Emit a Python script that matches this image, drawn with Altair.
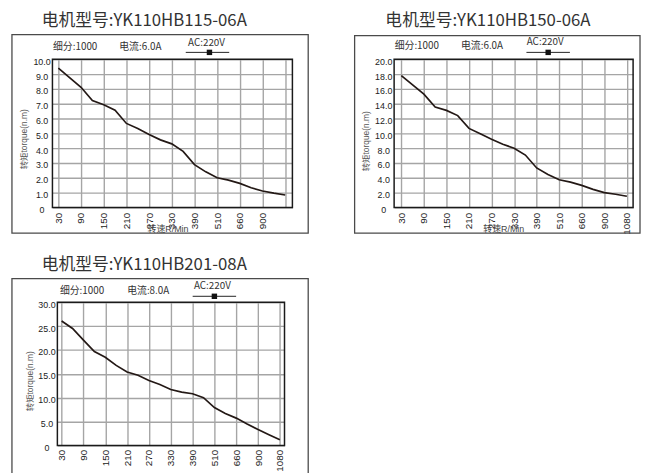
import altair as alt
import pandas as pd

# ---------------- data ----------------
TITLES = ["电机型号:YK110HB115-06A", "电机型号:YK110HB150-06A", "电机型号:YK110HB201-08A"]
SUBDIV = "细分:1000"
CURRENTS = ["电流:6.0A", "电流:6.0A", "电流:8.0A"]
VOLTAGE = "AC:220V"
Y_TITLE = "转矩torque(n.m)"
X_TITLE = "转速R/Min"

X_LABELS_1 = ["30", "90", "150", "210", "270", "330", "390", "510", "660", "900", ""]
X_LABELS_2 = ["30", "90", "150", "210", "270", "330", "390", "510", "660", "900", "1080"]
X_LABELS_3 = ["30", "90", "150", "210", "270", "330", "390", "510", "660", "900", "1080"]

P1_POS = [0, 1, 1.5, 2, 2.5, 3, 3.5, 4, 4.5, 5, 5.5, 6, 6.5, 7, 7.5, 8, 8.5, 9, 9.5, 10]
P1_TORQUE = [9.4, 8.11, 7.22, 6.93, 6.56, 5.67, 5.33, 4.93, 4.56, 4.29,
             3.78, 2.89, 2.4, 2.0, 1.84, 1.62, 1.33, 1.11, 0.96, 0.84]

P2_POS = [0, 1, 1.5, 2, 2.5, 3, 3.5, 4, 4.5, 5, 5.5, 6, 6.5, 7, 7.5, 8, 8.5, 9, 9.5, 10]
P2_TORQUE = [17.8, 15.3, 13.56, 13.1, 12.4, 10.67, 9.96, 9.2, 8.53, 8.0,
             7.07, 5.33, 4.44, 3.73, 3.42, 2.98, 2.44, 2.0, 1.78, 1.51]

P3_POS = [0, 0.5, 1, 1.5, 2, 2.5, 3, 3.5, 4, 4.5, 5, 5.5, 6, 6.5, 7, 7.5, 8, 8.5, 9, 9.5, 10]
P3_TORQUE = [26.07, 24.5, 22.07, 19.66, 18.48, 16.76, 15.38, 14.69, 13.59, 12.76, 11.72,
             11.17, 10.83, 10.0, 7.93, 6.69, 5.72, 4.48, 3.31, 2.21, 1.17]

Y_TICKS_1 = [0, 1, 2, 3, 4, 5, 6, 7, 8, 9, 10]
Y_TICKS_2 = [0, 2, 4, 6, 8, 10, 12, 14, 16, 18, 20]
Y_TICKS_3 = [0, 5, 10, 15, 20, 25, 30]

# ---------------- layout / style ----------------
CJK = "Noto Sans CJK SC"
LAT = "Liberation Sans Narrow, Liberation Sans"
LAT_Y = "Liberation Sans"

GEOM = [
    dict(w=243, h=150, xdom=[-0.261, 10.318], xr0=0, ymax=10, ylp=11, xlp=5,
         box=(-41, 259, -25, 176), title=(93, -34), sub=(23, -12), cur=(89, -12),
         ac=(156, -16), acline=(135, 179, -7), sq=(159, -7), ytitle=(-29, 81), xtitle=(117, 175)),
    dict(w=242, h=150, xdom=[-0.32, 10.276], xr0=0, ymax=20, ylp=11, xlp=5,
         box=(-40, 249, -24, 176), title=(95, -34), sub=(23, -13), cur=(89, -13),
         ac=(153, -17), acline=(134, 178, -7), sq=(156, -7), ytitle=(-28, 83), xtitle=(111, 175)),
    dict(w=235, h=145, xdom=[-0.195, 10.212], xr0=5, ymax=30, ylp=6, xlp=4,
         box=(-41, 259, -24, 220), title=(93, -33), sub=(30, -11), cur=(97, -11),
         ac=(162, -16), acline=(142, 186, -6), sq=(164, -6), ytitle=(-23, 80), xtitle=None),
]

ONE = pd.DataFrame({"a": [0]})


def text_layer(txt, xy, size, color, font, baseline="middle", angle=0):
    kw = dict(text=txt, fontSize=size, color=color, font=font, align="center", baseline=baseline)
    if angle:
        kw["angle"] = angle
    return alt.Chart(ONE).mark_text(**kw).encode(x=alt.value(xy[0]), y=alt.value(xy[1]))


def make_panel(title, current, pos, torque, xlabels, yticks, g):
    w, h = g["w"], g["h"]
    df = pd.DataFrame({"x": pos, "t": torque})
    label_arr = "[" + ",".join("'%s'" % s for s in xlabels) + "][datum.value]"
    line = alt.Chart(df).mark_line(color="#231815", strokeWidth=1.7).encode(
        x=alt.X("x:Q", title=None,
                scale=alt.Scale(domain=g["xdom"], range=[g["xr0"], w], nice=False, zero=False),
                axis=alt.Axis(values=list(range(11)), labelExpr=label_arr, grid=True,
                              gridColor="#a5a5a5", gridWidth=1.4, domain=False, ticks=False,
                              tickSize=0, labelAngle=270, labelPadding=g["xlp"], labelFlush=False,
                              labelOverlap=False, labelFont=LAT, labelFontSize=10,
                              labelColor="#222")),
        y=alt.Y("t:Q", title=None,
                scale=alt.Scale(domain=[0, g["ymax"]], nice=False, zero=True),
                axis=alt.Axis(values=yticks,
                              labelExpr="datum.value == 0 ? '0' : format(datum.value, '.1f')",
                              grid=True, gridColor="#a5a5a5", gridWidth=1.4, domain=False,
                              ticks=False, tickSize=0, labelAlign="center", labelBaseline="middle",
                              labelPadding=g["ylp"], labelOffset=2, labelFlush=False,
                              labelOverlap=False, labelFont=LAT_Y, labelFontSize=9,
                              labelColor="#222")),
    )
    bx = g["box"]
    outer = alt.Chart(ONE).mark_rect(filled=False, stroke="#4a4a4a", strokeWidth=1.3).encode(
        x=alt.value(bx[0]), x2=alt.value(bx[1]), y=alt.value(bx[2]), y2=alt.value(bx[3]))
    frame = alt.Chart(ONE).mark_rect(filled=False, stroke="#1a1a1a", strokeWidth=1.5).encode(
        x=alt.value(g["xr0"]), x2=alt.value(w), y=alt.value(0), y2=alt.value(h))
    acl = g["acline"]
    acrule = alt.Chart(ONE).mark_rule(color="#222", strokeWidth=1).encode(
        x=alt.value(acl[0]), x2=alt.value(acl[1]), y=alt.value(acl[2]))
    sq = alt.Chart(ONE).mark_square(size=30, color="#111", opacity=1).encode(
        x=alt.value(g["sq"][0]), y=alt.value(g["sq"][1]))
    layers = [
        outer,
        text_layer(title, g["title"], 17, "#333", CJK, baseline="alphabetic"),
        text_layer(SUBDIV, g["sub"], 10, "#333", CJK),
        text_layer(current, g["cur"], 10, "#333", CJK),
        text_layer(VOLTAGE, g["ac"], 10, "#333", CJK),
        acrule, sq,
        text_layer(Y_TITLE, g["ytitle"], 8.5, "#555", "Liberation Sans, Noto Sans CJK SC", angle=270),
    ]
    if g["xtitle"] is not None:
        layers.append(text_layer(X_TITLE, g["xtitle"], 9, "#444",
                                 "Liberation Sans, Noto Sans CJK SC", baseline="alphabetic"))
    layers += [line, frame]
    return alt.layer(*layers).properties(width=w, height=h)


p1 = make_panel(TITLES[0], CURRENTS[0], P1_POS, P1_TORQUE, X_LABELS_1, Y_TICKS_1, GEOM[0])
p2 = make_panel(TITLES[1], CURRENTS[1], P2_POS, P2_TORQUE, X_LABELS_2, Y_TICKS_2, GEOM[1])
p3 = make_panel(TITLES[2], CURRENTS[2], P3_POS, P3_TORQUE, X_LABELS_3, Y_TICKS_3, GEOM[2])

chart = alt.concat(p1, p2, p3, columns=2, spacing={"row": 96, "column": 103},
                   bounds="flush").properties(
    autosize=alt.AutoSizeParams(type="none"),
    padding={"left": 45, "top": 49, "right": 596, "bottom": 416},
    background="white",
).configure_view(strokeWidth=0)

chart.save("out.html", embed_options={"renderer": "svg", "actions": False})
